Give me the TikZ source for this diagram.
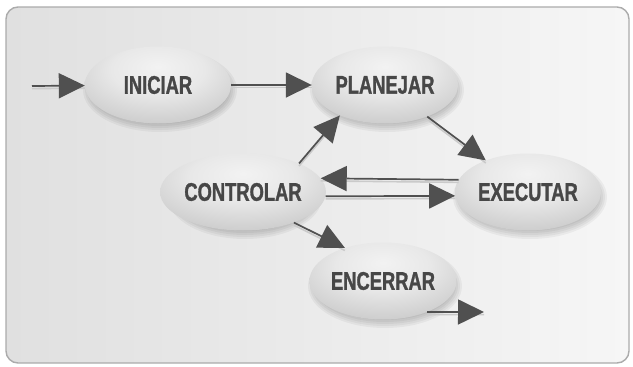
\documentclass[tikz,border=0pt]{standalone}
\usepackage{fontspec}
\newfontfamily\lbl[FakeStretch=0.72,FakeBold=1.2]{Liberation Sans Bold}
\usetikzlibrary{shapes.geometric,arrows.meta}
\definecolor{txt}{HTML}{474747}
\definecolor{arr}{HTML}{505050}
\definecolor{arrlight}{HTML}{CACACA}
\definecolor{frameC}{HTML}{ABABAB}
\definecolor{bgL}{HTML}{E0E0E0}
\definecolor{bgR}{HTML}{F6F6F6}
\pgfdeclareradialshading{ellshade}{\pgfpoint{0bp}{12bp}}{%
  color(0bp)=(white!95!black);
  color(16bp)=(white!91!black);
  color(34bp)=(white!80!black);
  color(48bp)=(white!66!black);
  color(60bp)=(white!57!black);
  color(100bp)=(white!57!black)}
\newcommand\ellnode[4]{%
  \foreach \k in {0,...,6} {%
    \fill[black, opacity=0.045] (#2+2,#3+5) ellipse ({77-2*\k} and {42-2*\k});
  }
  \node[proc] (#1) at (#2,#3) {#4};
}
\begin{document}
\begin{tikzpicture}[x=1pt,y=-1pt,
  proc/.style={ellipse, minimum width=146pt, minimum height=77pt, inner sep=0pt,
    shading=ellshade, font=\lbl\fontsize{25.5pt}{26pt}\selectfont, text=txt},
  flow/.style={draw=arr, line width=1.7pt, -{Triangle[length=26pt,width=25pt]},
    preaction={draw=arrlight, line width=1.6pt, -, transform canvas={yshift=-2.6pt}}}]
\useasboundingbox (0,0) rectangle (633,367);
\draw[frameC, line width=1.4pt, rounded corners=12pt, left color=bgL, right color=bgR]
  (6,7) rectangle (629,363);
\ellnode{ini}{158}{85}{INICIAR}
\ellnode{plan}{385}{85}{PLANEJAR}
\ellnode{ctrl}{243}{192}{CONTROLAR}
\ellnode{exec}{528}{192}{EXECUTAR}
\ellnode{enc}{383}{281}{ENCERRAR}
\coordinate (inS) at (32,86);
\coordinate (outE) at (484,312);
\draw[flow] (inS) -- (ini);
\draw[flow] (ini) -- (plan);
\draw[flow] (plan) -- (exec);
\draw[flow] (ctrl.27) -- (plan.214);
\draw[flow] (exec.170) -- (ctrl.10);
\draw[flow] (ctrl.-3) -- (exec.183);
\draw[flow] (ctrl.-31) -- (enc.139);
\draw[flow] (enc.-35) -- (outE);
\end{tikzpicture}
\end{document}
